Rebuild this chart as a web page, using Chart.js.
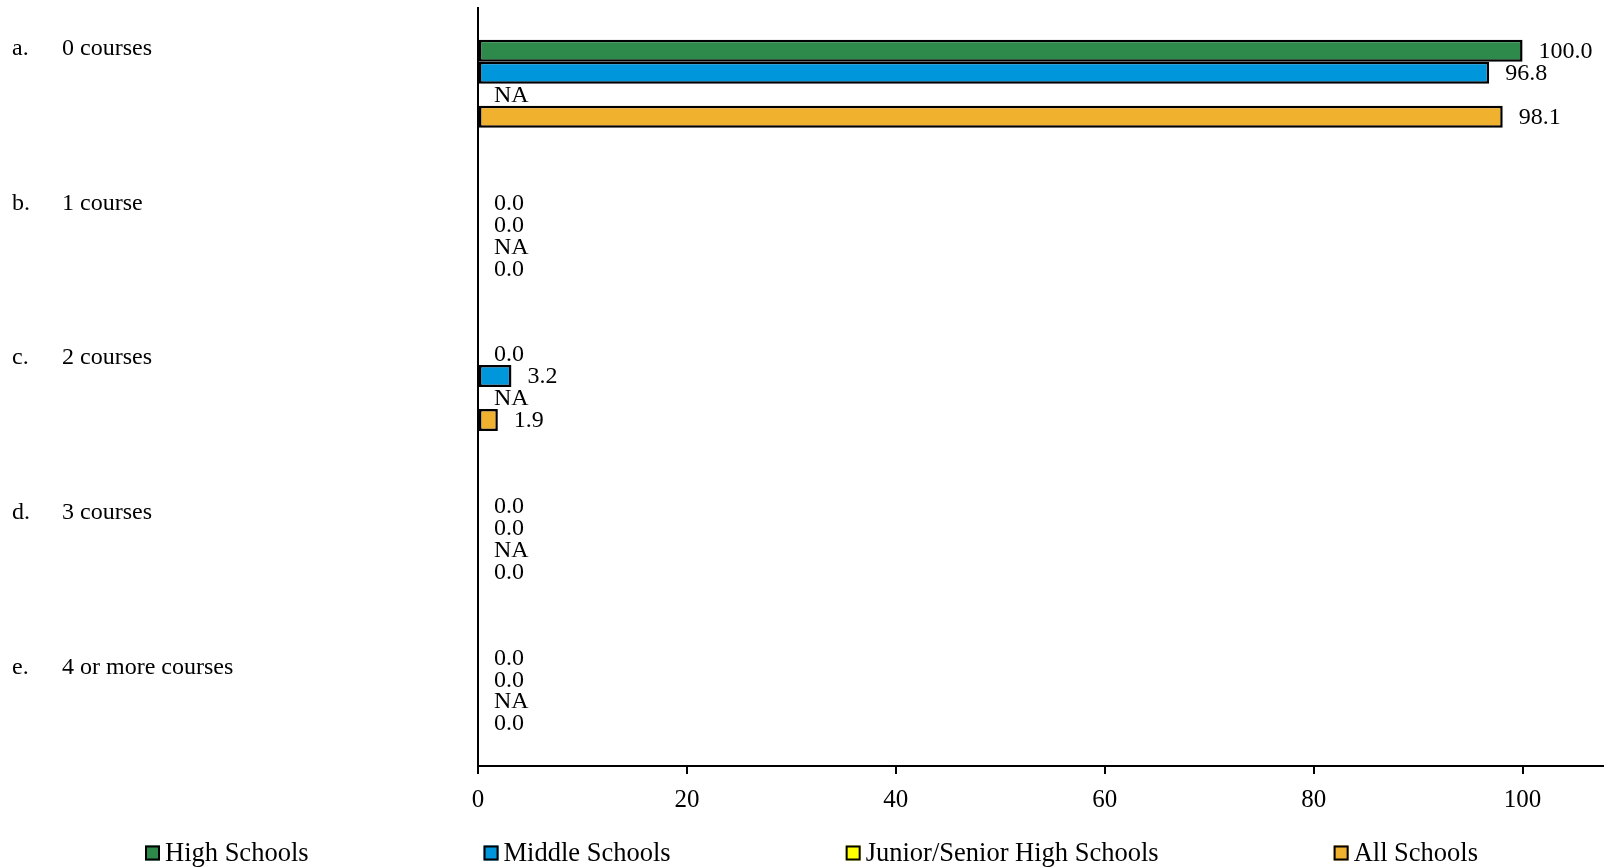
<!DOCTYPE html>
<html>
<head>
<meta charset="utf-8">
<script src="https://cdn.jsdelivr.net/npm/chart.js@4"></script>
<style>
  html, body { margin: 0; padding: 0; background: #fff; }
  #wrap { width: 1608px; height: 868px; position: relative; }
</style>
</head>
<body>
<div id="wrap"><canvas id="c"></canvas></div>
<script>
const letters = ['a.', 'b.', 'c.', 'd.', 'e.'];
const categories = ['0 courses', '1 course', '2 courses', '3 courses', '4 or more courses'];
const seriesNames = ['High Schools', 'Middle Schools', 'Junior/Senior High Schools', 'All Schools'];
const highSchools = [100.0, 0.0, 0.0, 0.0, 0.0];
const middleSchools = [96.8, 0.0, 3.2, 0.0, 0.0];
const juniorSenior = [null, null, null, null, null]; // NA
const allSchools = [98.1, 0.0, 1.9, 0.0, 0.0];
const xTicks = [0, 20, 40, 60, 80, 100];
const colors = ['#2E8A4A', '#0096DB', '#FFFF00', '#F0B12F'];

const FONT = "'Liberation Serif', 'Times New Roman', serif";

const valueLabels = {
  id: 'valueLabels',
  afterDatasetsDraw(chart) {
    const ctx = chart.ctx;
    ctx.save();
    ctx.font = '24px ' + FONT;
    ctx.fillStyle = '#000';
    ctx.textAlign = 'left';
    ctx.textBaseline = 'middle';
    chart.data.datasets.forEach((ds, i) => {
      const meta = chart.getDatasetMeta(i);
      meta.data.forEach((el, j) => {
        const v = ds.data[j];
        const isNA = (v === null || v === undefined);
        const txt = isNA ? 'NA' : v.toFixed(1);
        const x = isNA ? chart.scales.x.getPixelForValue(0) : el.x;
        ctx.fillText(txt, x + 16, el.y + 1);
      });
    });
    ctx.restore();
  }
};

const catLabels = {
  id: 'catLabels',
  afterDraw(chart) {
    const ctx = chart.ctx;
    ctx.save();
    ctx.font = '24px ' + FONT;
    ctx.fillStyle = '#000';
    ctx.textAlign = 'left';
    ctx.textBaseline = 'middle';
    const meta0 = chart.getDatasetMeta(0);
    chart.data.labels.forEach((lab, j) => {
      const y = meta0.data[j].y - 2 + j * 3;
      ctx.fillText(letters[j], 12, y);
      ctx.fillText(lab, 62, y);
    });
    ctx.restore();
  }
};

const customLegend = {
  id: 'customLegend',
  afterDraw(chart) {
    const ctx = chart.ctx;
    ctx.save();
    ctx.font = '26.5px ' + FONT;
    ctx.textBaseline = 'middle';
    ctx.textAlign = 'left';
    const box = 15, boxGap = 5, gap = 175;
    const widths = chart.data.datasets.map(ds => box + boxGap + ctx.measureText(ds.label).width);
    let x = 145;
    const y = 853;
    chart.data.datasets.forEach((ds, i) => {
      ctx.fillStyle = ds.backgroundColor;
      ctx.fillRect(x, y - box / 2, box, box);
      ctx.lineWidth = 2;
      ctx.strokeStyle = '#000';
      ctx.strokeRect(x + 1, y - box / 2 + 1, box - 2, box - 2);
      ctx.fillStyle = '#000';
      ctx.fillText(ds.label, x + box + boxGap, y + 1);
      x += widths[i] + gap;
    });
    ctx.restore();
  }
};

const seriesData = [highSchools, middleSchools, juniorSenior, allSchools];

new Chart(document.getElementById('c'), {
  type: 'bar',
  data: {
    labels: categories,
    datasets: seriesNames.map((name, i) => ({
      label: name,
      data: seriesData[i],
      backgroundColor: colors[i],
      borderColor: '#000',
      borderWidth: 2.5,
      borderSkipped: false,
      categoryPercentage: 0.58,
      barPercentage: 1.0
    }))
  },
  options: {
    indexAxis: 'y',
    responsive: true,
    maintainAspectRatio: false,
    animation: false,
    layout: { padding: { left: 478, right: 5, top: 8, bottom: 42 } },
    plugins: {
      legend: { display: false },
      tooltip: { enabled: false }
    },
    scales: {
      x: {
        min: 0,
        max: 107.7,
        afterBuildTicks(scale) { scale.ticks = xTicks.map(v => ({ value: v })); },
        ticks: {
          font: { family: FONT, size: 25 },
          color: '#000',
          padding: 11
        },
        grid: { display: true, drawOnChartArea: false, drawTicks: true, tickLength: 8, color: '#000', lineWidth: 2 },
        border: { display: true, color: '#000', width: 2 }
      },
      y: {
        afterFit(scale) { scale.width = 0; },
        ticks: { display: false },
        grid: { display: false, drawTicks: false },
        border: { display: true, color: '#000', width: 2 }
      }
    }
  },
  plugins: [valueLabels, catLabels, customLegend]
});
</script>
</body>
</html>
